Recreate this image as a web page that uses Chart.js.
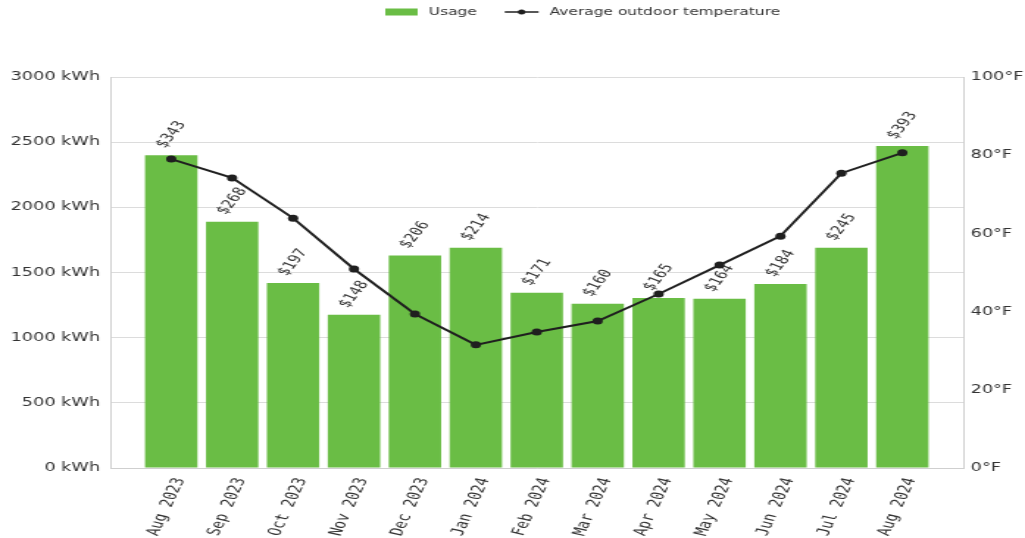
<!DOCTYPE html>
<html>
<head>
<meta charset="utf-8">
<script src="https://cdn.jsdelivr.net/npm/chart.js@4.4.0/dist/chart.umd.min.js"></script>
<style>
html, body { margin: 0; padding: 0; background: #fff; }
</style>
</head>
<body>
<canvas id="graficoConsumo" width="697" height="538" style="width:1025px;height:538px"></canvas>
<script>
var meses = ['Aug 2023', 'Sep 2023', 'Oct 2023', 'Nov 2023', 'Dec 2023', 'Jan 2024', 'Feb 2024',
    'Mar 2024', 'Apr 2024', 'May 2024', 'Jun 2024', 'Jul 2024', 'Aug 2024'];
var usoKwh = [2400, 1890, 1420, 1175, 1630, 1690, 1345, 1260, 1305, 1298, 1412, 1690, 2470];
var costes = [343, 268, 197, 148, 206, 214, 171, 160, 165, 164, 184, 245, 393];
var temperaturas = [79.0, 74.2, 63.9, 50.9, 39.4, 31.5, 34.8, 37.6, 44.5, 51.9, 59.3, 75.4, 80.6];
var ticksKwh = [0, 500, 1000, 1500, 2000, 2500, 3000];
var ticksTemp = [0, 20, 40, 60, 80, 100];

var colorBarras = '#6abd45';
var colorLinea = '#1f1f1f';
var colorTexto = '#333333';

// media categoria vacia a cada lado, como en el original
var etiquetas = [''].concat(meses, ['']);
var datosUso = [null].concat(usoKwh, [null]);
var datosCoste = [null].concat(costes, [null]);
var datosTemp = [null].concat(temperaturas, [null]);

Chart.defaults.font.family = '"DejaVu Sans"';
Chart.defaults.font.size = 12;
Chart.defaults.color = colorTexto;

var etiquetasCoste = {
    id: 'etiquetasCoste',
    afterDatasetDraw: function (chart, args) {
        if (args.index !== 0) return;
        var ctx = chart.ctx;
        var angulo = 60 * Math.PI / 180;
        var alto = 12;
        ctx.save();
        ctx.font = alto + 'px "DejaVu Sans Mono"';
        ctx.fillStyle = colorTexto;
        ctx.textAlign = 'center';
        ctx.textBaseline = 'middle';
        args.meta.data.forEach(function (barra, i) {
            var coste = datosCoste[i];
            if (coste == null) return;
            var texto = '$' + coste;
            var ancho = ctx.measureText(texto).width;
            var mitadY = ancho / 2 * Math.sin(angulo) + alto / 2 * Math.cos(angulo);
            ctx.save();
            ctx.translate(barra.x, barra.y - 5 - mitadY);
            ctx.rotate(-angulo);
            ctx.fillText(texto, 0, 0);
            ctx.restore();
        });
        ctx.restore();
    }
};

var leyenda = {
    id: 'leyenda',
    afterDraw: function (chart) {
        var ctx = chart.ctx;
        var sets = chart.data.datasets;
        var y = 12;
        var x = 262;
        ctx.save();
        ctx.font = '10.5px "DejaVu Sans"';
        ctx.textBaseline = 'middle';
        ctx.textAlign = 'left';

        ctx.fillStyle = colorBarras;
        ctx.fillRect(x, y - 3.5, 22, 7);
        x += 29.5;
        ctx.fillStyle = colorTexto;
        ctx.fillText(sets[0].label, x, y);
        x += ctx.measureText(sets[0].label).width + 19;

        ctx.strokeStyle = colorLinea;
        ctx.lineWidth = 1.5;
        ctx.beginPath();
        ctx.moveTo(x, y);
        ctx.lineTo(x + 23, y);
        ctx.stroke();
        ctx.fillStyle = colorLinea;
        ctx.beginPath();
        ctx.arc(x + 11.5, y, 2.5, 0, Math.PI * 2);
        ctx.fill();
        x += 30.5;
        ctx.fillStyle = colorTexto;
        ctx.fillText(sets[1].label, x, y);
        ctx.restore();
    }
};

var ctx = document.getElementById('graficoConsumo').getContext('2d');
var grafico = new Chart(ctx, {
    type: 'bar',
    data: {
        labels: etiquetas,
        datasets: [{
            label: 'Usage',
            data: datosUso,
            backgroundColor: colorBarras,
            borderWidth: 0,
            barPercentage: 0.86,
            categoryPercentage: 1,
            yAxisID: 'y',
            order: 1
        }, {
            type: 'line',
            label: 'Average outdoor temperature',
            data: datosTemp,
            borderColor: colorLinea,
            backgroundColor: colorLinea,
            borderWidth: 2,
            pointRadius: 3.5,
            pointBackgroundColor: colorLinea,
            pointBorderWidth: 0,
            tension: 0,
            yAxisID: 'y1',
            order: 0
        }]
    },
    options: {
        responsive: false,
        animation: false,
        devicePixelRatio: 1,
        layout: {
            padding: { top: 77, left: 7, right: 1, bottom: 2 }
        },
        plugins: {
            legend: { display: false },
            tooltip: { enabled: false }
        },
        scales: {
            x: {
                offset: false,
                grid: { display: false, offset: false },
                border: { color: '#cfcfcf' },
                afterFit: function (scale) { scale.height = 68; },
                ticks: {
                    autoSkip: false,
                    minRotation: 72,
                    maxRotation: 72,
                    padding: 0,
                    labelOffset: 6,
                    font: { family: '"DejaVu Sans Mono"', size: 12.5 }
                }
            },
            y: {
                position: 'left',
                min: 0,
                max: 3000,
                grid: { color: '#dcdcdc', drawTicks: false },
                border: { color: '#cfcfcf' },
                afterBuildTicks: function (scale) {
                    scale.ticks = ticksKwh.map(function (v) { return { value: v }; });
                },
                afterFit: function (scale) { scale.width = 68; },
                ticks: {
                    padding: 7,
                    callback: function (v) { return v + ' kWh'; }
                }
            },
            y1: {
                position: 'right',
                min: 0,
                max: 100,
                grid: { drawOnChartArea: false, drawTicks: false },
                border: { color: '#cfcfcf' },
                afterBuildTicks: function (scale) {
                    scale.ticks = ticksTemp.map(function (v) { return { value: v }; });
                },
                afterFit: function (scale) { scale.width = 41; },
                ticks: {
                    padding: 5,
                    callback: function (v) { return v + '°F'; }
                }
            }
        }
    },
    plugins: [etiquetasCoste, leyenda]
});
</script>
</body>
</html>
